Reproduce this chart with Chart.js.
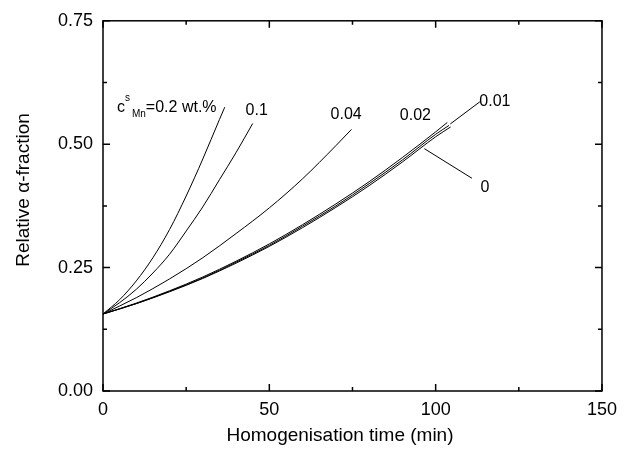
<!DOCTYPE html>
<html>
<head>
<meta charset="utf-8">
<script src="https://cdn.jsdelivr.net/npm/chart.js@4"></script>
<style>
  body { margin: 0; background: #fff; }
  #wrap { width: 625px; height: 455px; }
</style>
</head>
<body>
<div id="wrap"><canvas id="myChart" width="625" height="455"></canvas></div>
<script>
// curves, one pair of arrays per Mn content
let c02X = [0, 5, 10, 15, 20, 25, 30, 35, 36.6];
let c02Y = [0.156, 0.185, 0.223, 0.270, 0.327, 0.395, 0.470, 0.550, 0.575];
let c01X = [0, 5, 10, 15, 20, 25, 30, 35, 40, 45];
let c01Y = [0.156, 0.179, 0.206, 0.239, 0.277, 0.324, 0.373, 0.428, 0.483, 0.542];
let c004X = [0, 10, 20, 30, 40, 50, 60, 70, 74.7];
let c004Y = [0.156, 0.189, 0.227, 0.270, 0.319, 0.371, 0.430, 0.497, 0.530];
let c002X = [0, 10, 20, 30, 40, 50, 60, 70, 80, 90, 100, 103.5];
let c002Y = [0.156, 0.178, 0.203, 0.231, 0.263, 0.298, 0.337, 0.379, 0.424, 0.473, 0.525, 0.544];
let c001X = [0, 10, 20, 30, 40, 50, 60, 70, 80, 90, 100, 104];
let c001Y = [0.156, 0.177, 0.202, 0.229, 0.261, 0.295, 0.334, 0.375, 0.420, 0.468, 0.520, 0.538];
let c0X = [0, 10, 20, 30, 40, 50, 60, 70, 80, 90, 100, 104.5];
let c0Y = [0.156, 0.177, 0.201, 0.228, 0.259, 0.293, 0.331, 0.372, 0.416, 0.464, 0.515, 0.535];

// leader lines for the labels 0.01 and 0
let lead001X = [104.4, 113.3];
let lead001Y = [0.541, 0.586];
let lead0X = [96.6, 110.9];
let lead0Y = [0.491, 0.431];

// curve labels (text, x, y in data units)
let labelText = ["0.1", "0.04", "0.02", "0.01", "0"];
let labelX = [46.2, 73.1, 93.9, 117.8, 114.8];
let labelY = [0.568, 0.560, 0.558, 0.586, 0.413];

// axis ticks
let xMajor = [0, 50, 100, 150];
let xMinor = [25, 75, 125];
let yMajor = [0, 0.25, 0.5, 0.75];
let yMinor = [0.125, 0.375, 0.625];

const FONT = "'Liberation Sans', Arial, sans-serif";

function pts(xs, ys) {
    let out = [];
    for (let i = 0; i < xs.length; i++) {
        out.push({ x: xs[i], y: ys[i] });
    }
    return out;
}

function serie(xs, ys) {
    return {
        data: pts(xs, ys),
        showLine: true,
        borderColor: '#000',
        borderWidth: 1,
        pointRadius: 0,
        fill: false,
        cubicInterpolationMode: 'monotone'
    };
}

// frame, inward ticks, titles and curve labels
const decor = {
    id: 'decor',
    afterDatasetsDraw(chart) {
        let c = chart.ctx;
        let a = chart.chartArea;
        let sx = chart.scales.x;
        let sy = chart.scales.y;
        c.save();
        c.strokeStyle = '#000';
        c.lineWidth = 1.5;
        c.strokeRect(a.left, a.top, a.right - a.left, a.bottom - a.top);

        function tickX(v, len) {
            let px = sx.getPixelForValue(v);
            c.beginPath();
            c.moveTo(px, a.bottom); c.lineTo(px, a.bottom - len);
            c.moveTo(px, a.top); c.lineTo(px, a.top + len);
            c.stroke();
        }
        function tickY(v, len) {
            let py = sy.getPixelForValue(v);
            c.beginPath();
            c.moveTo(a.left, py); c.lineTo(a.left + len, py);
            c.moveTo(a.right, py); c.lineTo(a.right - len, py);
            c.stroke();
        }
        xMajor.forEach(v => tickX(v, 7));
        xMinor.forEach(v => tickX(v, 4));
        yMajor.forEach(v => tickY(v, 7));
        yMinor.forEach(v => tickY(v, 4));

        c.fillStyle = '#000';
        c.textAlign = 'center';
        c.textBaseline = 'middle';

        // axis titles
        c.font = '19px ' + FONT;
        c.fillText('Homogenisation time (min)', 340, 436);
        c.save();
        c.translate(24, 190);
        c.rotate(-Math.PI / 2);
        c.fillText('Relative \u03b1-fraction', 0, 0);
        c.restore();

        // curve labels
        c.font = '16px ' + FONT;
        for (let i = 0; i < labelText.length; i++) {
            c.fillText(labelText[i], sx.getPixelForValue(labelX[i]), sy.getPixelForValue(labelY[i]));
        }

        // c^s_Mn=0.2 wt.%
        let x0 = sx.getPixelForValue(4.2);
        let y0 = sy.getPixelForValue(0.574);
        c.textAlign = 'left';
        c.font = '16px ' + FONT;
        c.fillText('c', x0, y0);
        let w = c.measureText('c').width;
        c.font = '10px ' + FONT;
        c.fillText('s', x0 + w, y0 - 9);
        let ws = c.measureText('s').width;
        c.fillText('Mn', x0 + w + ws + 2, y0 + 7);
        let wm = c.measureText('Mn').width;
        c.font = '16px ' + FONT;
        c.fillText('=0.2 wt.%', x0 + w + ws + wm + 2, y0);
        c.restore();
    }
};

new Chart(document.getElementById('myChart'), {
    type: 'scatter',
    data: {
        datasets: [
            serie(c02X, c02Y),
            serie(c01X, c01Y),
            serie(c004X, c004Y),
            serie(c002X, c002Y),
            serie(c001X, c001Y),
            serie(c0X, c0Y),
            serie(lead001X, lead001Y),
            serie(lead0X, lead0Y)
        ]
    },
    options: {
        responsive: false,
        animation: false,
        events: [],
        layout: { padding: { left: 0, right: 19, top: 18, bottom: 0 } },
        plugins: {
            legend: { display: false },
            tooltip: { enabled: false }
        },
        scales: {
            x: {
                type: 'linear',
                min: 0,
                max: 150,
                grid: { display: false, drawTicks: false },
                border: { display: false },
                ticks: {
                    stepSize: 50,
                    padding: 8,
                    color: '#000',
                    font: { family: FONT, size: 18 }
                },
                afterFit(scale) { scale.height = 64; }
            },
            y: {
                type: 'linear',
                min: 0,
                max: 0.75,
                grid: { display: false, drawTicks: false },
                border: { display: false },
                ticks: {
                    stepSize: 0.25,
                    padding: 10,
                    color: '#000',
                    font: { family: FONT, size: 18 },
                    callback: v => v.toFixed(2)
                },
                afterFit(scale) { scale.width = 103; }
            }
        }
    },
    plugins: [decor]
});
</script>
</body>
</html>
